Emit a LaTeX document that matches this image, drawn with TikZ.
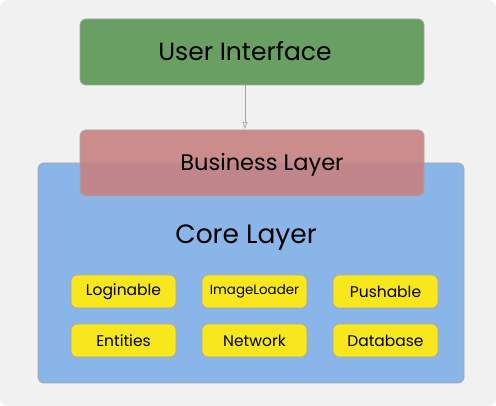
\documentclass[tikz,border=0pt]{standalone}
\usepackage{fontspec}
\setmainfont{Poppins}
\usetikzlibrary{arrows.meta}
\definecolor{bggray}{HTML}{F1F1F1}
\definecolor{uigreen}{HTML}{6A9F63}
\definecolor{bizred}{RGB}{199,129,128}
\definecolor{coreblue}{HTML}{8AB5E8}
\definecolor{modyellow}{HTML}{F8E71C}
\definecolor{edgegray}{HTML}{A8A8A8}
\tikzset{
  layerbox/.style={draw=edgegray, line width=0.8pt, rounded corners=6pt},
  modbox/.style={draw=edgegray, line width=0.7pt, rounded corners=6pt, fill=modyellow,
    minimum width=105pt, minimum height=33pt, inner sep=0pt, font=\fontsize{15.5}{18}\selectfont},
}
\begin{document}
\begin{tikzpicture}[x=1pt,y=-1pt]
\useasboundingbox (0,0) rectangle (496,406);
\fill[white] (0,0) rectangle (496,406);
\fill[bggray, rounded corners=8pt] (0,0) rectangle (496,406);
% core layer
\draw[layerbox, fill=coreblue] (38,163) rectangle (464,383);
\node (core) at (246,238) {\fontsize{26.5}{30}\selectfont Core Layer};
% user interface
\draw[layerbox, fill=uigreen] (80,19) rectangle (424,85);
\node (ui) at (245,51) {\fontsize{25}{28}\selectfont User Interface};
\coordinate (uib) at (245,85);
% business layer
\draw[layerbox, fill=bizred, fill opacity=0.89] (80,130) rectangle (424,196);
\node (biz) at (262,165) {\fontsize{22.5}{26}\selectfont Business Layer};
\coordinate (bizt) at (245,129);
\draw[edgegray, line width=0.7pt, -{Triangle[open,length=7pt,width=5pt]}] (uib) -- (bizt);
% modules
\node[modbox] (login) at (123.5,291.5) {Loginable};
\node[modbox] (img) at (254.5,291.5) {\fontsize{13.4}{16}\selectfont ImageLoader};
\node[modbox] (push) at (385.5,291.5) {Pushable};
\node[modbox] (ent) at (123.5,340.5) {Entities};
\node[modbox] (net) at (254.5,340.5) {Network};
\node[modbox] (db) at (385.5,340.5) {Database};
\end{tikzpicture}
\end{document}
